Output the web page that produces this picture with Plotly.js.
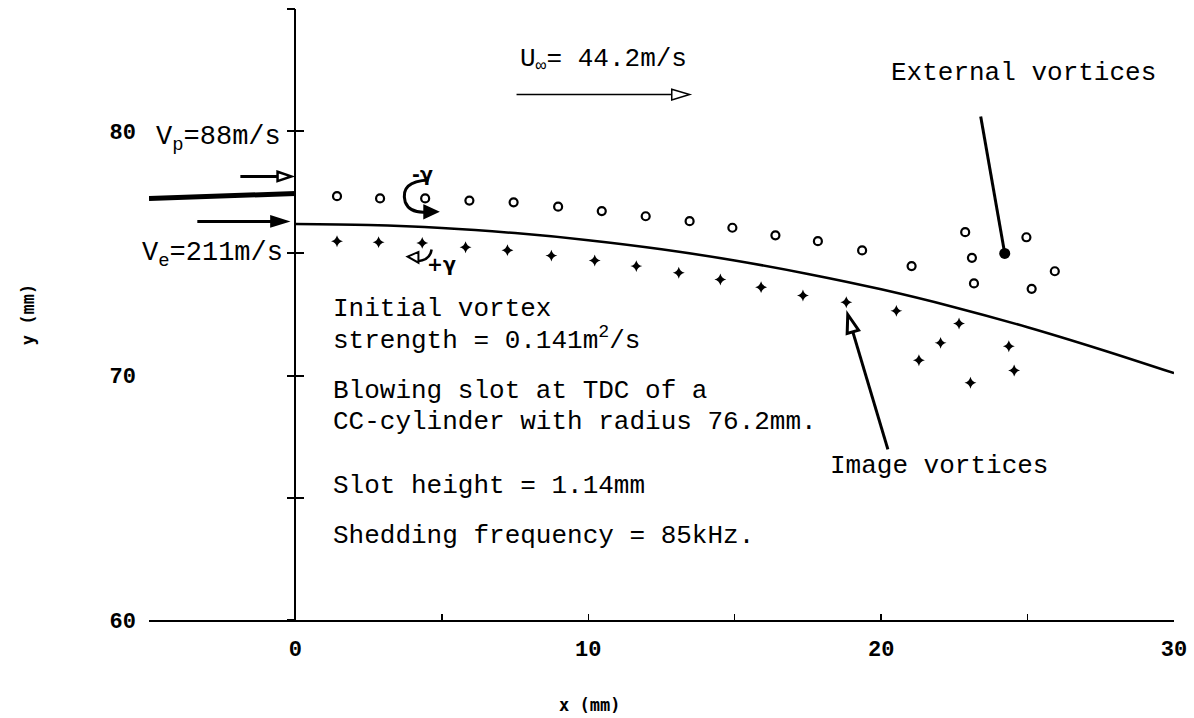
<!DOCTYPE html>
<html>
<head>
<meta charset="utf-8">
<script src="https://cdn.plot.ly/plotly-3.0.1.min.js"></script>
<style>html,body{margin:0;padding:0;background:#fff;}#chart{width:1194px;height:718px;}</style>
</head>
<body>
<div id="chart"></div>
<script>
// External vortices (open circles)
const extX = [1.42, 2.89, 4.43, 5.94, 7.45, 8.97, 10.46, 11.96, 13.46, 14.92, 16.39, 17.84, 19.35, 21.04, 22.87, 23.10, 23.17, 24.96, 25.93, 25.14];
const extY = [77.34, 77.25, 77.25, 77.16, 77.09, 76.91, 76.73, 76.52, 76.32, 76.05, 75.74, 75.50, 75.12, 74.48, 75.87, 74.82, 73.77, 75.66, 74.27, 73.55];
// Image vortices (crosses)
const imgX = [1.42, 2.84, 4.33, 5.81, 7.24, 8.74, 10.22, 11.64, 13.09, 14.51, 15.90, 17.33, 18.81, 20.52, 22.66, 22.03, 21.29, 23.05, 24.36, 24.54];
const imgY = [75.50, 75.46, 75.43, 75.25, 75.13, 74.91, 74.71, 74.48, 74.21, 73.93, 73.62, 73.28, 73.00, 72.65, 72.13, 71.34, 70.63, 69.71, 71.20, 70.21];
// Highlighted external vortex
const dotX = [24.22];
const dotY = [75.0];
// Cylinder surface
const surfX = [0, 2.5, 5, 7.5, 10, 12.5, 15, 17.5, 20, 22.5, 25, 27.5, 30];
const surfY = [76.2, 76.16, 76.04, 75.83, 75.54, 75.17, 74.71, 74.16, 73.53, 72.8, 71.98, 71.07, 70.1];
// Slot lip
const lipX = [-5, 0];
const lipY = [77.25, 77.45];
// Axis ticks
const xTickVals = [0, 10, 20, 30];
const xTickText = ['0', '10', '20', '30'];
const xMinorVals = [-5, 5, 15, 25];
const yTickVals = [60, 70, 80];
const yTickText = ['60', '70', '80'];

const mono = 'Liberation Mono, DejaVu Sans Mono, monospace';
const blk = '#000';

const traces = [
  {x: surfX, y: surfY, mode: 'lines', line: {color: blk, width: 2.5, shape: 'spline'}, hoverinfo: 'skip', showlegend: false},
  {x: lipX, y: lipY, mode: 'lines', line: {color: blk, width: 5}, hoverinfo: 'skip', showlegend: false},
  {x: extX, y: extY, mode: 'markers', marker: {symbol: 'circle-open', size: 8, color: blk, line: {width: 2.2, color: blk}}, showlegend: false},
  {x: imgX, y: imgY, mode: 'markers', marker: {symbol: 'star-diamond', size: 8.5, color: blk}, showlegend: false},
  {x: dotX, y: dotY, mode: 'markers', marker: {symbol: 'circle', size: 11, color: blk}, showlegend: false},
  {x: [], y: [], yaxis: 'y2', showlegend: false},
  {x: [], y: [], yaxis: 'y3', showlegend: false}
];

function ann(text, x, y, opts) {
  return Object.assign({text: text, x: x, y: y, xref: 'x', yref: 'y', showarrow: false,
    xanchor: 'left', yanchor: 'middle', font: {family: mono, size: 26, color: blk}}, opts || {});
}
const bigFont = {family: mono, size: 27, color: blk};
const gamFont = {family: 'DejaVu Sans', size: 19, color: blk, weight: 'bold'};

const annotations = [
  ann('Initial vortex', 1.2, 72.72),
  ann('strength = 0.141m<sup>2</sup>/s', 1.2, 71.5),
  ann('Blowing slot at TDC of a', 1.2, 69.37),
  ann('CC-cylinder with radius 76.2mm.', 1.2, 68.12),
  ann('Slot height = 1.14mm', 1.2, 65.5),
  ann('Shedding frequency = 85kHz.', 1.2, 63.45),
  ann('Image vortices', 18.2, 66.3),
  ann('External vortices', 29.45, 82.4, {xanchor: 'right'}),
  ann('U<sub>∞</sub>= 44.2m/s', 7.6, 82.9),
  ann('V<sub>p</sub>=88m/s', 0.005, 79.7, {xref: 'paper', font: bigFont}),
  ann('V<sub>e</sub>=211m/s', -0.009, 74.95, {xref: 'paper', font: bigFont}),
  ann('-γ', 4.34, 78.25, {xanchor: 'center', font: gamFont}),
  ann('+γ', 4.99, 74.55, {xanchor: 'center', font: gamFont}),
  {text: 'x (mm)', xref: 'paper', yref: 'paper', x: 0.43, y: -0.139, showarrow: false,
   xanchor: 'center', yanchor: 'middle', font: {family: 'DejaVu Sans Mono', size: 17, color: blk, weight: 'bold'}}
];

function line(x0, y0, x1, y1, w) {
  return {type: 'line', xref: 'x', yref: 'y', x0: x0, y0: y0, x1: x1, y1: y1, line: {color: blk, width: w}};
}
function path(d, w, fill) {
  return {type: 'path', xref: 'x', yref: 'y', path: d, line: {color: blk, width: w}, fillcolor: fill || 'rgba(0,0,0,0)'};
}

const shapes = [
  // U-infinity arrow
  line(7.55, 81.5, 12.85, 81.5, 1.5),
  path('M 12.85 81.72 L 13.46 81.5 L 12.85 81.28 Z', 1.5),
  // Vp arrow
  line(-1.88, 78.15, -0.61, 78.15, 3),
  path('M -0.61 78.34 L -0.14 78.15 L -0.61 77.96 Z', 2.5),
  // Ve arrow
  line(-3.35, 76.31, -0.82, 76.31, 3),
  path('M -0.82 76.5 L -0.31 76.31 L -0.82 76.12 Z', 2.5, blk),
  // Image vortices arrow
  line(20.23, 66.98, 19.03, 71.8, 3),
  path('M 18.86 72.5 L 19.23 71.86 L 18.84 71.72 Z', 3, '#fff'),
  // External vortices pointer
  line(23.40, 80.6, 24.22, 75.0, 3),
  // -gamma curl
  path('M 4.55 78.0 Q 3.55 77.95 3.75 77.1 Q 3.9 76.65 4.45 76.69', 3),
  path('M 4.4 76.95 L 4.85 76.7 L 4.4 76.45 Z', 2, blk),
  // +gamma curl
  path('M 4.65 75.16 Q 4.6 74.72 4.17 74.68', 2.5),
  path('M 3.83 74.87 L 4.2 75.06 L 4.2 74.62 Z', 2, '#fff')
];

const tickFont = {family: mono, size: 22, color: blk, weight: 'bold'};

const layout = {
  width: 1194, height: 718,
  margin: {l: 149, r: 20, t: 9, b: 98},
  paper_bgcolor: '#fff', plot_bgcolor: '#fff',
  showlegend: false,
  xaxis: {range: [-5, 30], showgrid: false, showline: true, linecolor: blk, linewidth: 2,
    zeroline: true, zerolinecolor: blk, zerolinewidth: 2,
    ticks: 'inside', ticklen: 6, tickwidth: 1.5, tickcolor: blk,
    tickmode: 'array', tickvals: xTickVals, ticktext: xTickText, tickfont: tickFont, ticklabelstandoff: 8,
    minor: {tickmode: 'array', tickvals: xMinorVals, ticks: 'inside', ticklen: 6, tickwidth: 1.5, tickcolor: blk, showgrid: false}},
  yaxis: {range: [60, 85], showgrid: false, showline: false, zeroline: false, ticks: '',
    tickmode: 'array', tickvals: yTickVals, ticktext: yTickText, tickfont: tickFont, ticklabelstandoff: 12,
    title: {text: 'y (mm)', standoff: 70, font: {family: 'DejaVu Sans Mono', size: 17, color: blk, weight: 'bold'}}},
  yaxis2: {range: [60, 85], overlaying: 'y', anchor: 'free', position: 5 / 35, side: 'left',
    showgrid: false, zeroline: false, showline: false, showticklabels: false,
    ticks: 'outside', ticklen: 8, tickwidth: 2, tickcolor: blk, tick0: 60, dtick: 5},
  yaxis3: {range: [60, 85], overlaying: 'y', anchor: 'free', position: 5 / 35, side: 'left',
    showgrid: false, zeroline: false, showline: false, showticklabels: false,
    ticks: 'inside', ticklen: 8, tickwidth: 2, tickcolor: blk, tick0: 60, dtick: 5},
  annotations: annotations,
  shapes: shapes
};

Plotly.newPlot('chart', traces, layout, {staticPlot: true});
</script>
</body>
</html>
